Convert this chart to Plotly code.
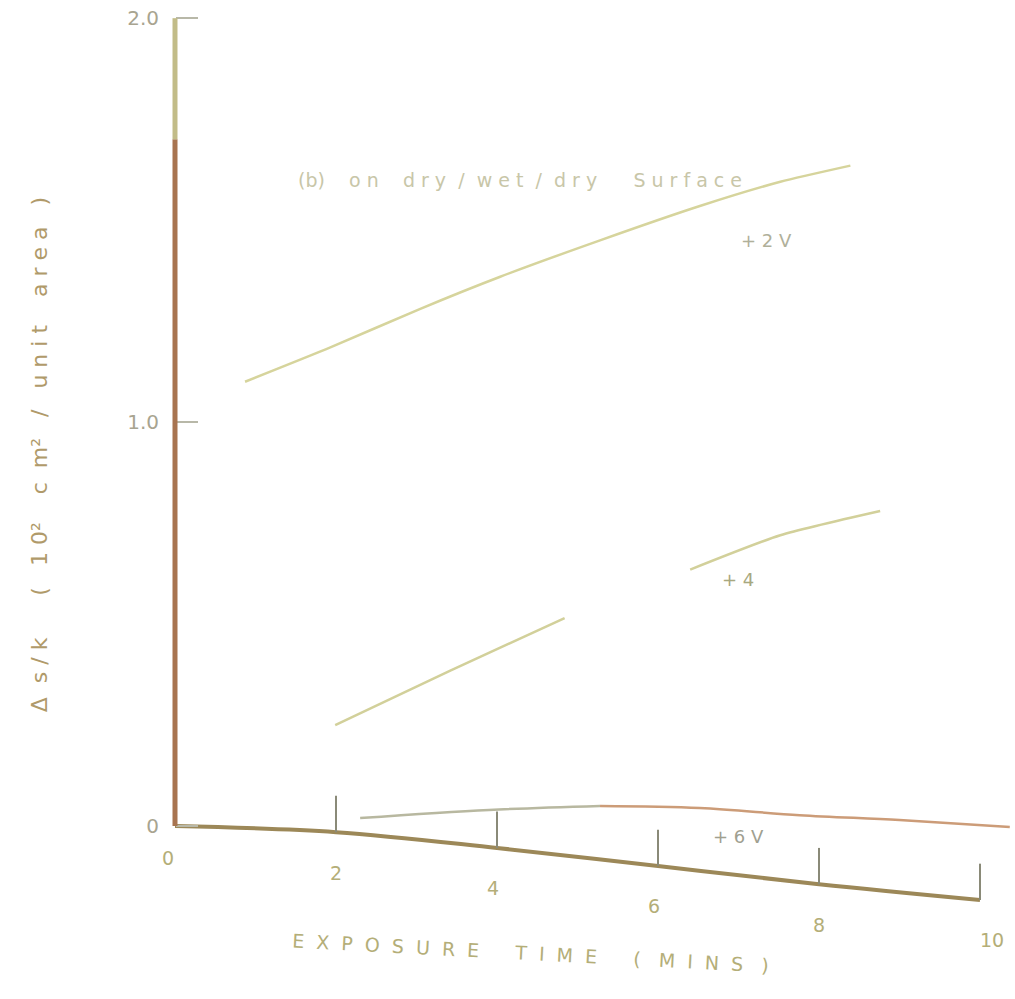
import plotly.graph_objects as go

# Exposure time (minutes) and measured change per unit area for each bias voltage
x_pos2v = [0.87, 1.93, 3.04, 4.04, 5.28, 6.52, 7.52, 8.39]
y_pos2v = [1.10, 1.185, 1.28, 1.36, 1.45, 1.535, 1.595, 1.635]

x_pos4v = [1.99, 3.42, 4.84, None, 6.40, 7.52, 8.76]
y_pos4v = [0.25, 0.385, 0.515, None, 0.635, 0.72, 0.78]

x_pos6v = [2.30, 3.90, 5.28, 6.52, 7.76, 9.00, 10.37]
y_pos6v = [0.02, 0.04, 0.05, 0.045, 0.027, 0.015, -0.002]

# Hand-drawn time axis (it sags slightly to the right)
x_ticks = [0, 2, 4, 6, 8, 10]
x_tick_labels = ["0", "2", "4", "6", "8", "10"]
axis_sag = [0.0, -0.015, -0.054, -0.099, -0.144, -0.183]
x_label_shift = [-0.09, 0.0, -0.05, -0.05, 0.0, 0.15]

y_ticks = [0, 1.0, 2.0]
y_tick_labels = ["0", "1.0", "2.0"]

TXT = "#b4ae78"
AXIS_BROWN = "#a87450"
BASE_OLIVE = "#9c8858"

fig = go.Figure()

# curves
fig.add_trace(go.Scatter(x=x_pos2v, y=y_pos2v, mode="lines",
                         line=dict(color="#d6d49c", width=2.5, shape="spline", smoothing=0.6), hoverinfo="skip"))
fig.add_trace(go.Scatter(x=x_pos4v, y=y_pos4v, mode="lines",
                         line=dict(color="#d2d09a", width=2.5, shape="spline", smoothing=0.6), hoverinfo="skip"))
fig.add_trace(go.Scatter(x=x_pos6v[:3], y=y_pos6v[:3], mode="lines",
                         line=dict(color="#b8b8a0", width=2.5, shape="spline"), hoverinfo="skip"))
fig.add_trace(go.Scatter(x=x_pos6v[2:], y=y_pos6v[2:], mode="lines",
                         line=dict(color="#cc9c78", width=2.5, shape="spline"), hoverinfo="skip"))

# sagging time axis
fig.add_trace(go.Scatter(x=x_ticks, y=axis_sag, mode="lines",
                         line=dict(color=BASE_OLIVE, width=4, shape="spline"), hoverinfo="skip"))
for xt, yb in zip(x_ticks[1:], axis_sag[1:]):
    fig.add_shape(type="line", x0=xt, x1=xt, y0=yb, y1=yb + 0.09, xref="x", yref="y",
                  line=dict(color="#8a8a78", width=2))
for xt, yb, lab, dx in zip(x_ticks, axis_sag, x_tick_labels, x_label_shift):
    fig.add_annotation(x=xt + dx, y=yb - (0.08 if xt == 0 else 0.1), text=lab, showarrow=False, xref="x", yref="y",
                       font=dict(family="DejaVu Sans", size=19, color=TXT))

# vertical axis line
fig.add_shape(type="line", x0=0, x1=0, y0=0, y1=1.70, xref="x", yref="y", line=dict(color=AXIS_BROWN, width=5))
fig.add_shape(type="line", x0=0, x1=0, y0=1.70, y1=2.0, xref="x", yref="y", line=dict(color="#c2bc88", width=5))

# curve labels
fig.add_annotation(x=7.35, y=1.45, text="+ 2 V", showarrow=False, font=dict(family="DejaVu Sans", size=18, color="#b0b09a"))
fig.add_annotation(x=7.0, y=0.61, text="+ 4", showarrow=False, font=dict(family="DejaVu Sans", size=18, color="#a8a880"))
fig.add_annotation(x=7.0, y=-0.025, text="+ 6 V", showarrow=False, font=dict(family="DejaVu Sans", size=18, color="#a0a090"))

# panel caption
fig.add_annotation(x=4.29, y=1.60, text="(b)    o n    d r y  /  w e t  /  d r y      S u r f a c e", showarrow=False,
                   font=dict(family="DejaVu Sans", size=19, color="#c8c6a8"))

# axis titles
fig.add_annotation(x=4.41, y=-0.314, text="E  X  P  O  S  U  R  E      T  I  M  E      (   M  I  N  S   )",
                   showarrow=False, textangle=3, font=dict(family="DejaVu Sans", size=19, color=TXT))
fig.add_annotation(x=-1.68, y=0.92, text="Δ  s / k      (   1 0²    c  m²   /   u n i t    a r e a   )", showarrow=False,
                   textangle=-90, font=dict(family="DejaVu Sans", size=22, color="#b09a6a"))

fig.update_layout(
    width=1015, height=999,
    margin=dict(l=0, r=0, t=0, b=0),
    paper_bgcolor="white", plot_bgcolor="white",
    showlegend=False,
    xaxis=dict(visible=False, range=[-2.174, 10.435]),
    yaxis=dict(range=[-0.428, 2.045], anchor="free", position=0.1724, side="left",
               showgrid=False, zeroline=False, showline=False,
               tickvals=y_ticks, ticktext=y_tick_labels, ticks="inside", ticklen=22, tickwidth=2,
               tickcolor="#b8b8a8", ticklabelstandoff=16,
               tickfont=dict(family="DejaVu Sans", size=20, color="#a8a490")),
)

fig.write_html("out.html")
